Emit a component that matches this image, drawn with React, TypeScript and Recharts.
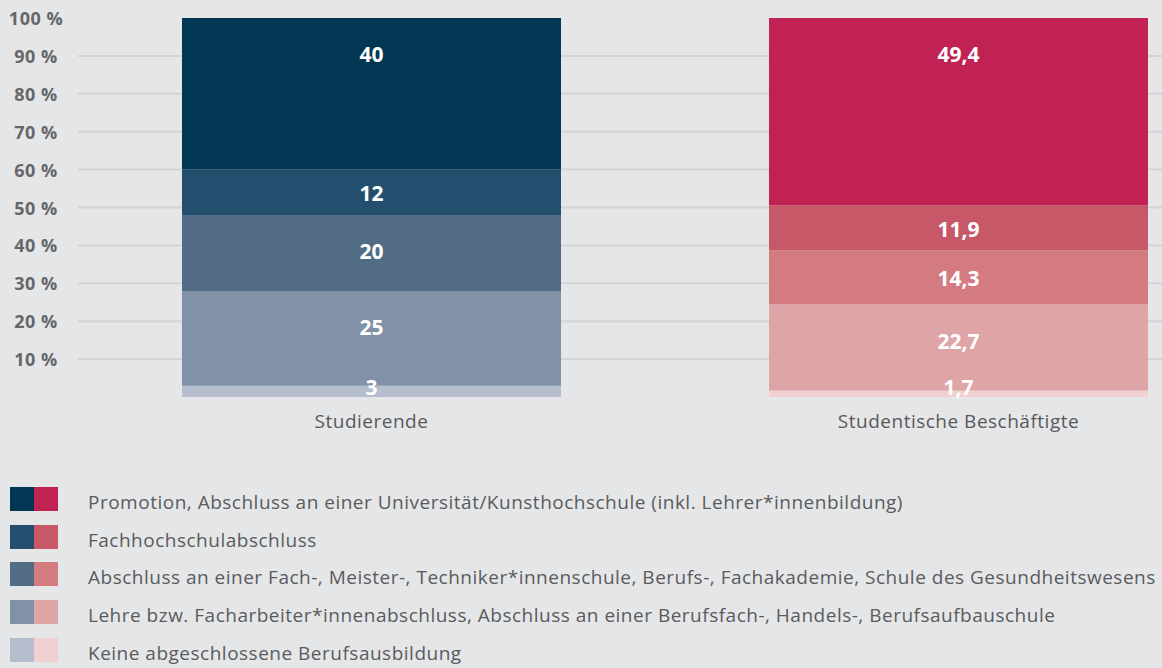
import React from "react";
import {
  BarChart,
  Bar,
  XAxis,
  YAxis,
  CartesianGrid,
  Cell,
  LabelList,
} from "recharts";

const categories = ["Studierende", "Studentische Beschäftigte"];
const promotion = [40, 49.4];
const fachhochschule = [12, 11.9];
const fachschule = [20, 14.3];
const lehre = [25, 22.7];
const keine = [3, 1.7];
const yTicks = [10, 20, 30, 40, 50, 60, 70, 80, 90, 100];
const gridValues = [10, 20, 30, 40, 50, 60, 70, 80, 90];

const legendLabels = [
  "Promotion, Abschluss an einer Universität/Kunsthochschule (inkl. Lehrer*innenbildung)",
  "Fachhochschulabschluss",
  "Abschluss an einer Fach-, Meister-, Techniker*innenschule, Berufs-, Fachakademie, Schule des Gesundheitswesens",
  "Lehre bzw. Facharbeiter*innenabschluss, Abschluss an einer Berufsfach-, Handels-, Berufsaufbauschule",
  "Keine abgeschlossene Berufsausbildung",
];

// [Studierende, Beschäftigte] colours per level, top level first
const colors = [
  ["#013752", "#c02353"],
  ["#234e6d", "#c75868"],
  ["#526c86", "#d47b81"],
  ["#8191a7", "#dfa4a6"],
  ["#b6bdcc", "#f0d0d0"],
];

const data = categories.map((name, i) => ({
  name,
  keine: keine[i],
  lehre: lehre[i],
  fachschule: fachschule[i],
  fachhochschule: fachhochschule[i],
  promotion: promotion[i],
}));

// bottom to top
const series = [
  { key: "keine", level: 4 },
  { key: "lehre", level: 3 },
  { key: "fachschule", level: 2 },
  { key: "fachhochschule", level: 1 },
  { key: "promotion", level: 0 },
];

const FONT = "'Open Sans', Lato, sans-serif";
const BAR_BOTTOM = 397;

function fmt(v: number) {
  return String(v).replace(".", ",");
}

function SegmentLabel(props: any) {
  const { x, y, width, height, value } = props;
  const cx = Number(x) + Number(width) / 2;
  const center = Number(y) + Number(height) / 2;
  const ty = Math.min(center + 1, Number(y) + 36, BAR_BOTTOM - 10);
  return (
    <text
      x={cx}
      y={ty}
      textAnchor="middle"
      dominantBaseline="central"
      fill="#ffffff"
      fontSize={21}
      fontWeight={700}
      fontFamily={FONT}
    >
      {fmt(Number(value))}
    </text>
  );
}

function YTick(props: any) {
  const { y, payload } = props;
  return (
    <text
      x={36}
      y={y}
      textAnchor="middle"
      dominantBaseline="central"
      fill="#666769"
      fontSize={18}
      fontWeight={700}
      letterSpacing={0.5}
      fontFamily={FONT}
    >
      {payload.value} %
    </text>
  );
}

export default function App() {
  return (
    <div
      style={{
        position: "absolute",
        left: 0,
        top: 0,
        width: 1162,
        height: 668,
        overflow: "hidden",
        background: "#e5e6e8",
        fontFamily: FONT,
      }}
    >
      <BarChart
        width={1252}
        height={450}
        data={data}
        margin={{ top: 18, right: 0, left: 0, bottom: 13 }}
        barSize={379}
      >
        <CartesianGrid
          vertical={false}
          stroke="#d3d4d6"
          strokeWidth={2}
          horizontalValues={gridValues}
        />
        <YAxis
          type="number"
          domain={[0, 100]}
          ticks={yTicks}
          width={78}
          axisLine={false}
          tickLine={false}
          tick={<YTick />}
        />
        <XAxis
          dataKey="name"
          height={40}
          axisLine={false}
          tickLine={false}
          tick={{ fill: "#58595b", fontSize: 19, fontFamily: FONT, letterSpacing: 0.5 }}
          tickMargin={12}
        />
        {series.map((s) => (
          <Bar
            key={s.key}
            dataKey={s.key}
            stackId="a"
            isAnimationActive={false}
          >
            {data.map((d, i) => (
              <Cell key={d.name} fill={colors[s.level][i]} />
            ))}
            <LabelList dataKey={s.key} content={<SegmentLabel />} />
          </Bar>
        ))}
      </BarChart>
      <div style={{ position: "absolute", left: 10, top: 487 }}>
        {legendLabels.map((label, i) => (
          <div
            key={label}
            style={{ display: "flex", alignItems: "center", height: 24, marginBottom: 13.7 }}
          >
            <span style={{ width: 24, height: 24, background: colors[i][0] }} />
            <span style={{ width: 24, height: 24, background: colors[i][1] }} />
            <span
              style={{
                marginLeft: 30,
                position: "relative",
                top: 3,
                fontSize: 19,
                letterSpacing: 0.5,
                color: "#5a5b5d",
                whiteSpace: "nowrap",
              }}
            >
              {label}
            </span>
          </div>
        ))}
      </div>
    </div>
  );
}
